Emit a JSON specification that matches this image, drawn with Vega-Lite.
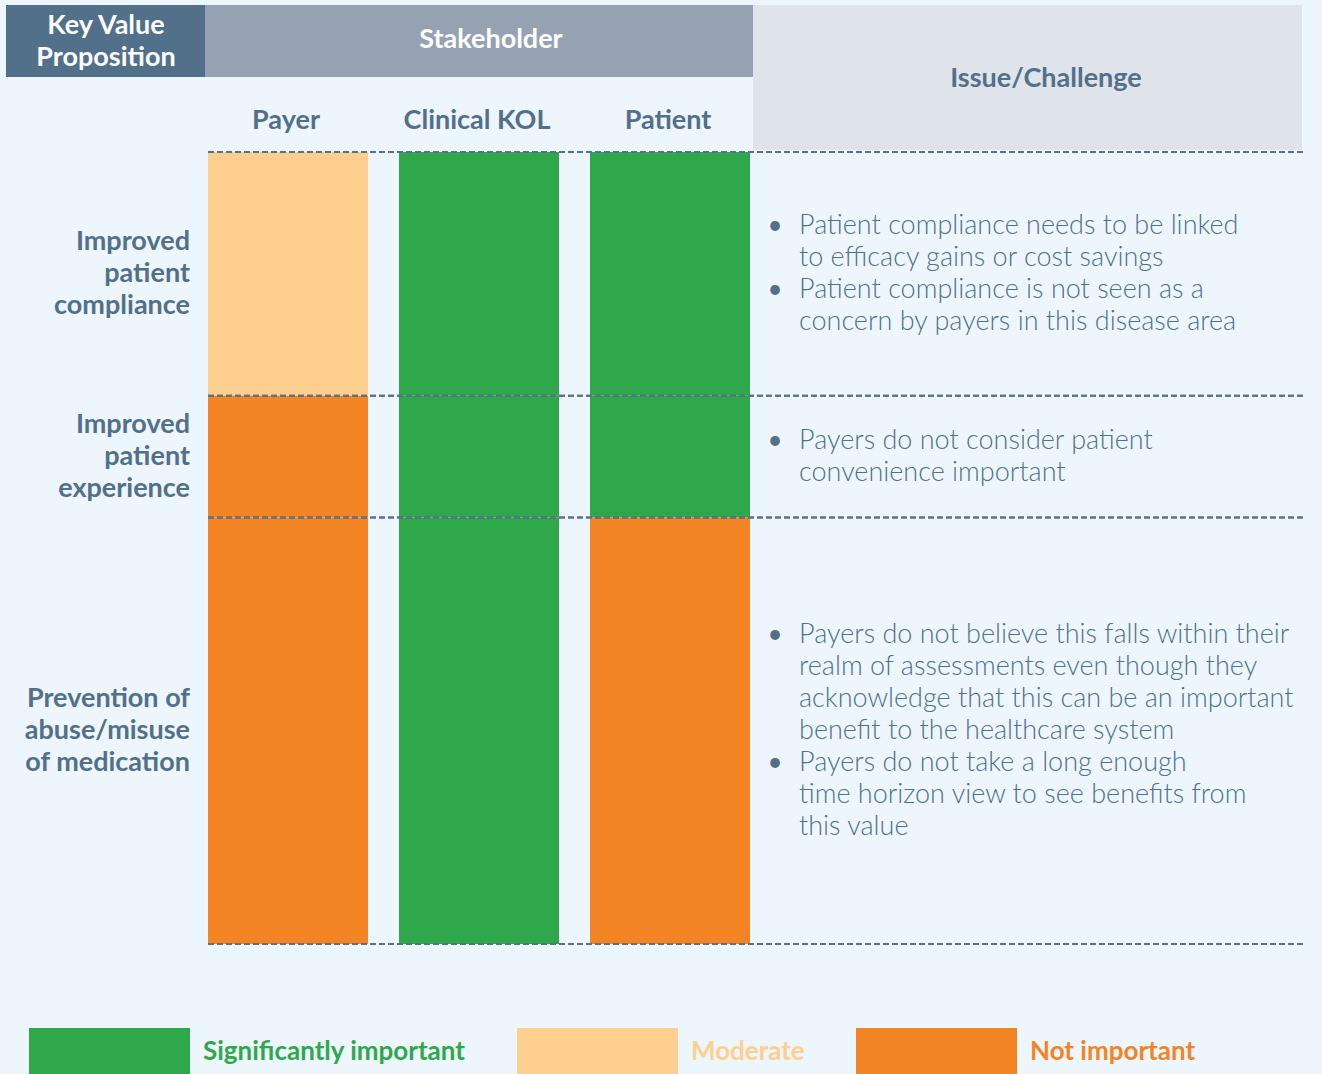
{
  "$schema": "https://vega.github.io/schema/vega-lite/v6.json",
  "width": 1322,
  "height": 1074,
  "autosize": {"type": "none"},
  "padding": 0,
  "background": "#EEF6FD",
  "config": {
    "view": {"stroke": null},
    "font": "Lato",
    "text": {"font": "Lato"}
  },
  "datasets": {
    "ratings": [
      {"proposition": "Improved patient compliance", "label": ["Improved", "patient", "compliance"], "Payer": "Moderate", "Clinical KOL": "Significantly important", "Patient": "Significantly important"},
      {"proposition": "Improved patient experience", "label": ["Improved", "patient", "experience"], "Payer": "Not important", "Clinical KOL": "Significantly important", "Patient": "Significantly important"},
      {"proposition": "Prevention of abuse/misuse of medication", "label": ["Prevention of", "abuse/misuse", "of medication"], "Payer": "Not important", "Clinical KOL": "Significantly important", "Patient": "Not important"}
    ],
    "issues": [
      {"proposition": "Improved patient compliance", "bullet": 1, "text": "Patient compliance needs to be linked"},
      {"proposition": "Improved patient compliance", "bullet": 1, "text": "to efficacy gains or cost savings"},
      {"proposition": "Improved patient compliance", "bullet": 2, "text": "Patient compliance is not seen as a"},
      {"proposition": "Improved patient compliance", "bullet": 2, "text": "concern by payers in this disease area"},
      {"proposition": "Improved patient experience", "bullet": 1, "text": "Payers do not consider patient"},
      {"proposition": "Improved patient experience", "bullet": 1, "text": "convenience important"},
      {"proposition": "Prevention of abuse/misuse of medication", "bullet": 1, "text": "Payers do not believe this falls within their"},
      {"proposition": "Prevention of abuse/misuse of medication", "bullet": 1, "text": "realm of assessments even though they"},
      {"proposition": "Prevention of abuse/misuse of medication", "bullet": 1, "text": "acknowledge that this can be an important"},
      {"proposition": "Prevention of abuse/misuse of medication", "bullet": 1, "text": "benefit to the healthcare system"},
      {"proposition": "Prevention of abuse/misuse of medication", "bullet": 2, "text": "Payers do not take a long enough"},
      {"proposition": "Prevention of abuse/misuse of medication", "bullet": 2, "text": "time horizon view to see benefits from"},
      {"proposition": "Prevention of abuse/misuse of medication", "bullet": 2, "text": "this value"}
    ]
  },
  "data": {"name": "issues"},
  "transform": [
    {"window": [{"op": "row_number", "as": "g"}]},
    {"window": [{"op": "row_number", "as": "k"}], "groupby": ["proposition"]},
    {"window": [{"op": "row_number", "as": "b"}], "groupby": ["proposition", "bullet"]},
    {"joinaggregate": [{"op": "count", "as": "n"}], "groupby": ["proposition"]},
    {"calculate": "datum.g - datum.k", "as": "start"},
    {"calculate": "datum.start + datum.n", "as": "end"},
    {"calculate": "datum.start + datum.n / 2", "as": "mid"},
    {"calculate": "datum.mid + (datum.k - 1 - (datum.n - 1) / 2) * 0.5253", "as": "ly"}
  ],
  "layer": [
    {
      "transform": [
        {"aggregate": [{"op": "count", "as": "lines"}], "groupby": ["proposition", "start", "end"]},
        {"lookup": "proposition", "from": {"data": {"name": "ratings"}, "key": "proposition", "fields": ["Payer", "Clinical KOL", "Patient"]}},
        {"fold": ["Payer", "Clinical KOL", "Patient"], "as": ["stakeholder", "importance"]}
      ],
      "mark": {"type": "rect"},
      "encoding": {
        "x": {"field": "stakeholder", "type": "nominal", "scale": {"type": "band", "domain": ["Payer", "Clinical KOL", "Patient"], "range": [208, 750], "paddingInner": 0.1623, "paddingOuter": 0}, "axis": null},
        "y": {"field": "start", "type": "quantitative", "scale": {"domain": [-2.4949, 15.1338], "reverse": true, "nice": false, "zero": false}, "axis": null},
        "y2": {"field": "end"},
        "color": {
          "field": "importance",
          "type": "nominal",
          "scale": {"domain": ["Significantly important", "Moderate", "Not important"], "range": ["#2EA84A", "#FECF8F", "#F38424"]},
          "legend": {
            "title": null,
            "orient": "none",
            "legendX": 29,
            "legendY": 971.5,
            "direction": "horizontal",
            "padding": 0,
            "symbolType": "M-1,-0.3H1V0.3H-1Z",
            "symbolSize": 25921,
            "symbolStrokeWidth": 0,
            "symbolOpacity": 1,
            "labelFont": "Lato",
            "labelFontSize": 26,
            "labelFontWeight": "bold",
            "labelOffset": 13,
            "labelLimit": 500,
            "columnPadding": 51,
            "labelColor": {"expr": "datum.value === 'Moderate' ? '#FECF8F' : datum.value === 'Not important' ? '#F38424' : '#2EA84A'"}
          }
        }
      }
    },
    {
      "data": {"values": [{"header": "Key Value Proposition"}]},
      "mark": {"type": "rect", "color": "#527089", "width": 199, "xOffset": -182.5},
      "encoding": {
        "x": {"datum": "Payer", "type": "nominal"},
        "y": {"datum": -2.413, "type": "quantitative"},
        "y2": {"datum": -1.231}
      }
    },
    {
      "data": {"values": [{"header": "Stakeholder"}]},
      "mark": {"type": "rect", "color": "#96A1B1", "width": 548},
      "encoding": {
        "x": {"datum": "Clinical KOL", "type": "nominal"},
        "y": {"datum": -2.413, "type": "quantitative"},
        "y2": {"datum": -1.231}
      }
    },
    {
      "data": {"values": [{"header": "Issue/Challenge"}]},
      "mark": {"type": "rect", "color": "#DFE3EA", "width": 549, "xOffset": 357.5},
      "encoding": {
        "x": {"datum": "Patient", "type": "nominal"},
        "y": {"datum": -2.413, "type": "quantitative"},
        "y2": {"datum": -0.0328}
      }
    },
    {
      "data": {"values": [{"header": ["Key Value", "Proposition"]}]},
      "mark": {"type": "text", "color": "#FFFFFF", "fontSize": 27, "fontWeight": "bold", "align": "center", "baseline": "middle", "lineHeight": 32, "dx": -182, "dy": -15},
      "encoding": {
        "x": {"datum": "Payer", "type": "nominal"},
        "y": {"datum": -1.822, "type": "quantitative"},
        "text": {"field": "header"}
      }
    },
    {
      "data": {"values": [{"header": "Stakeholder"}]},
      "mark": {"type": "text", "color": "#FFFFFF", "fontSize": 27, "fontWeight": "bold", "align": "center", "baseline": "middle", "dx": 12},
      "encoding": {
        "x": {"datum": "Clinical KOL", "type": "nominal"},
        "y": {"datum": -1.838, "type": "quantitative"},
        "text": {"field": "header"}
      }
    },
    {
      "data": {"values": [{"header": "Issue/Challenge"}]},
      "mark": {"type": "text", "color": "#52708A", "fontSize": 27, "fontWeight": "bold", "align": "center", "baseline": "middle", "dx": 376},
      "encoding": {
        "x": {"datum": "Patient", "type": "nominal"},
        "y": {"datum": -1.198, "type": "quantitative"},
        "text": {"field": "header"}
      }
    },
    {
      "data": {"values": [{"stakeholder": "Payer"}, {"stakeholder": "Clinical KOL"}, {"stakeholder": "Patient"}]},
      "mark": {"type": "text", "color": "#52708A", "fontSize": 27, "fontWeight": "bold", "align": "center", "baseline": "middle", "dx": -2},
      "encoding": {
        "x": {"field": "stakeholder", "type": "nominal"},
        "y": {"datum": -0.509, "type": "quantitative"},
        "text": {"field": "stakeholder"}
      }
    },
    {
      "transform": [
        {"aggregate": [{"op": "count", "as": "lines"}], "groupby": ["proposition", "start", "end"]}
      ],
      "mark": {"type": "rule", "color": "#5B7089", "strokeWidth": 2, "strokeDash": [6, 3], "xOffset": -80, "x2Offset": 634},
      "encoding": {
        "x": {"datum": "Payer", "type": "nominal"},
        "x2": {"datum": "Patient"},
        "y": {"field": "start", "type": "quantitative"}
      }
    },
    {
      "transform": [
        {"aggregate": [{"op": "count", "as": "lines"}], "groupby": ["proposition", "start", "end"]}
      ],
      "mark": {"type": "rule", "color": "#5B7089", "strokeWidth": 2, "strokeDash": [6, 3], "xOffset": -80, "x2Offset": 634},
      "encoding": {
        "x": {"datum": "Payer", "type": "nominal"},
        "x2": {"datum": "Patient"},
        "y": {"field": "end", "type": "quantitative"}
      }
    },
    {
      "transform": [
        {"aggregate": [{"op": "count", "as": "lines"}], "groupby": ["proposition", "mid"]},
        {"lookup": "proposition", "from": {"data": {"name": "ratings"}, "key": "proposition", "fields": ["label"]}}
      ],
      "mark": {"type": "text", "color": "#52708A", "fontSize": 27, "fontWeight": "bold", "align": "right", "baseline": "middle", "lineHeight": 32, "dx": -98, "dy": -32},
      "encoding": {
        "x": {"datum": "Payer", "type": "nominal"},
        "y": {"field": "mid", "type": "quantitative"},
        "text": {"field": "label"}
      }
    },
    {
      "transform": [{"filter": "datum.b == 1"}],
      "mark": {"type": "text", "color": "#52708A", "fontSize": 26, "align": "center", "baseline": "middle", "dx": 105, "text": "•"},
      "encoding": {
        "x": {"datum": "Patient", "type": "nominal"},
        "y": {"field": "ly", "type": "quantitative"}
      }
    },
    {
      "mark": {"type": "text", "color": "#52708A", "fontSize": 27, "fontWeight": 300, "align": "left", "baseline": "middle", "dx": 129},
      "encoding": {
        "x": {"datum": "Patient", "type": "nominal"},
        "y": {"field": "ly", "type": "quantitative"},
        "text": {"field": "text"}
      }
    }
  ]
}
